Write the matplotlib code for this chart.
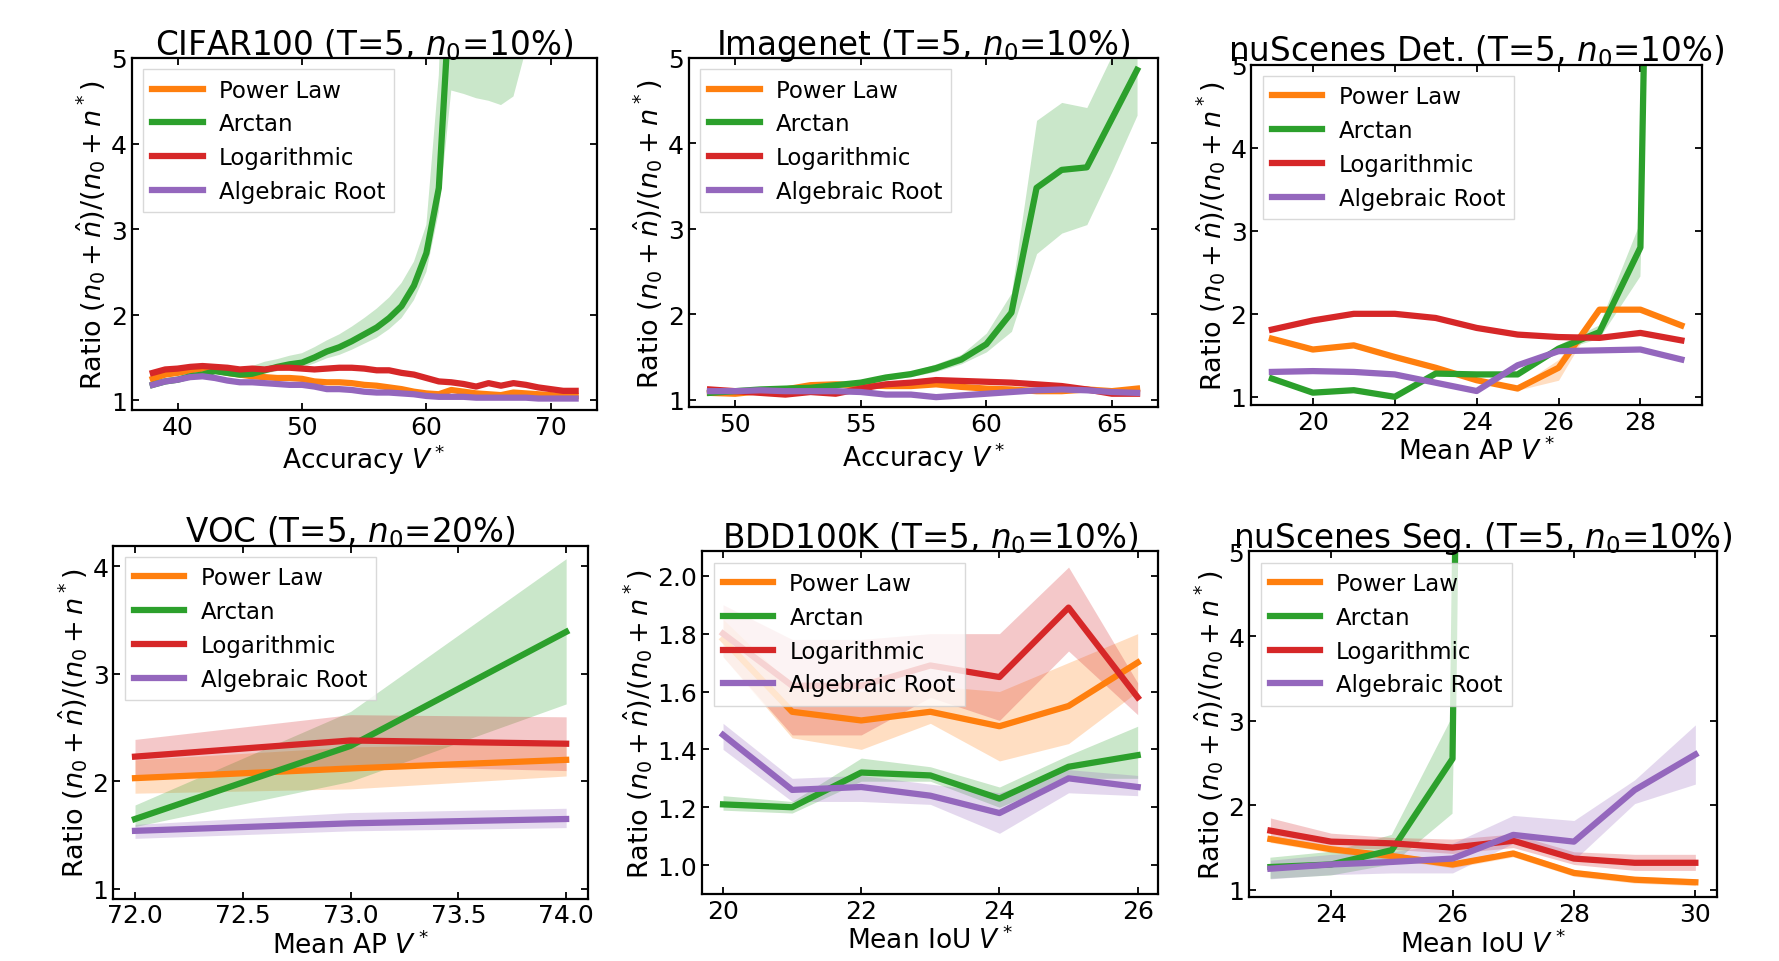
import matplotlib
matplotlib.use("Agg")
import matplotlib.pyplot as plt

SERIES = ["Power Law", "Arctan", "Logarithmic", "Algebraic Root"]
COLORS = ["#ff7f0e", "#2ca02c", "#d62728", "#9467bd"]
YLABEL = r"Ratio $(n_0+\hat{n})/(n_0+n^*)$"

# ---------------- CIFAR100 ----------------
cifar_x = list(range(38, 73))
cifar_power = [1.25, 1.30, 1.32, 1.35, 1.37, 1.35, 1.32, 1.30, 1.28, 1.27, 1.26, 1.26, 1.25, 1.22, 1.21,
               1.21, 1.20, 1.18, 1.17, 1.15, 1.13, 1.10, 1.08, 1.07, 1.12, 1.10, 1.08, 1.07, 1.06, 1.09,
               1.08, 1.07, 1.06, 1.05, 1.05]
cifar_arctan = [1.18, 1.22, 1.24, 1.28, 1.30, 1.34, 1.32, 1.30, 1.31, 1.35, 1.39, 1.42, 1.44, 1.50, 1.57,
                1.62, 1.69, 1.77, 1.85, 1.96, 2.10, 2.34, 2.72, 3.48, 6.0, 8.0, 9.5, 10.5, 11.5, 12.5,
                13.5, 14.5, 15.5, 16.5, 17.5]
cifar_arctan_lo = [1.15, 1.19, 1.21, 1.25, 1.27, 1.31, 1.29, 1.27, 1.28, 1.31, 1.34, 1.36, 1.38, 1.43, 1.49,
                   1.53, 1.59, 1.66, 1.73, 1.83, 1.96, 2.17, 2.50, 3.20, 4.62, 4.58, 4.53, 4.50, 4.45, 4.55,
                   5.10, 5.80, 6.50, 7.20, 7.80]
cifar_arctan_hi = [1.21, 1.25, 1.27, 1.31, 1.34, 1.38, 1.37, 1.37, 1.40, 1.45, 1.48, 1.52, 1.55, 1.62, 1.70,
                   1.77, 1.86, 1.96, 2.07, 2.20, 2.37, 2.62, 3.05, 4.80, 9.0, 12.0, 14.0, 16.0, 18.0, 20.0,
                   22.0, 24.0, 26.0, 28.0, 30.0]
cifar_log = [1.32, 1.36, 1.37, 1.39, 1.40, 1.39, 1.38, 1.36, 1.37, 1.36, 1.38, 1.38, 1.37, 1.36, 1.37,
             1.38, 1.38, 1.37, 1.35, 1.35, 1.32, 1.30, 1.26, 1.22, 1.21, 1.19, 1.16, 1.20, 1.17, 1.20,
             1.18, 1.15, 1.13, 1.11, 1.11]
cifar_root = [1.18, 1.22, 1.24, 1.27, 1.28, 1.26, 1.23, 1.21, 1.21, 1.20, 1.19, 1.18, 1.18, 1.16, 1.13,
              1.13, 1.12, 1.10, 1.09, 1.09, 1.08, 1.07, 1.05, 1.04, 1.04, 1.04, 1.03, 1.03, 1.03, 1.03,
              1.03, 1.02, 1.02, 1.02, 1.02]
cifar_spread = 0.02

# ---------------- Imagenet ----------------
in_x = list(range(49, 67))
in_power = [1.08, 1.07, 1.10, 1.12, 1.17, 1.18, 1.17, 1.16, 1.16, 1.18, 1.15, 1.13, 1.12, 1.10, 1.10, 1.12, 1.10, 1.13]
in_arctan = [1.08, 1.10, 1.12, 1.13, 1.14, 1.17, 1.20, 1.26, 1.30, 1.37, 1.47, 1.65, 2.02, 3.48, 3.69, 3.72, 4.29, 4.86]
in_arctan_lo = [1.06, 1.08, 1.10, 1.11, 1.12, 1.14, 1.17, 1.23, 1.27, 1.33, 1.42, 1.56, 1.80, 2.71, 2.95, 3.05, 3.67, 4.33]
in_arctan_hi = [1.10, 1.12, 1.14, 1.15, 1.16, 1.20, 1.23, 1.29, 1.33, 1.42, 1.53, 1.78, 2.25, 4.27, 4.48, 4.42, 5.03, 5.60]
in_log = [1.12, 1.10, 1.08, 1.06, 1.09, 1.07, 1.13, 1.18, 1.20, 1.23, 1.22, 1.21, 1.20, 1.18, 1.16, 1.12, 1.07, 1.07]
in_root = [1.10, 1.10, 1.11, 1.10, 1.10, 1.10, 1.09, 1.06, 1.06, 1.03, 1.05, 1.07, 1.09, 1.11, 1.12, 1.11, 1.09, 1.08]
in_spread = 0.02

# ---------------- nuScenes Det. ----------------
det_x = list(range(19, 30))
det_power = [1.70, 1.57, 1.62, 1.48, 1.35, 1.20, 1.10, 1.35, 2.05, 2.05, 1.86]
det_power_lo = [1.68, 1.55, 1.60, 1.46, 1.33, 1.18, 1.08, 1.20, 2.03, 2.03, 1.84]
det_power_hi = [1.72, 1.59, 1.64, 1.50, 1.37, 1.22, 1.12, 1.45, 2.07, 2.07, 1.88]
det_arctan = [1.22, 1.05, 1.08, 1.00, 1.28, 1.27, 1.27, 1.58, 1.78, 2.80, 30.0]
det_arctan_lo = [1.20, 1.03, 1.06, 0.98, 1.26, 1.25, 1.25, 1.55, 1.70, 2.45, 20.0]
det_arctan_hi = [1.24, 1.07, 1.10, 1.02, 1.30, 1.29, 1.29, 1.62, 1.86, 3.10, 40.0]
det_log = [1.81, 1.92, 2.00, 2.00, 1.95, 1.83, 1.75, 1.72, 1.71, 1.77, 1.68]
det_root = [1.30, 1.31, 1.30, 1.27, 1.17, 1.07, 1.38, 1.55, 1.56, 1.57, 1.45]
det_spread = 0.02

# ---------------- VOC ----------------
voc_x = [72, 73, 74]
voc_power = [2.03, 2.12, 2.20]
voc_power_lo = [1.89, 1.93, 2.05]
voc_power_hi = [2.20, 2.32, 2.36]
voc_arctan = [1.65, 2.33, 3.39]
voc_arctan_lo = [1.58, 2.00, 2.72]
voc_arctan_hi = [1.78, 2.65, 4.07]
voc_log = [2.23, 2.38, 2.35]
voc_log_lo = [2.05, 2.15, 2.10]
voc_log_hi = [2.39, 2.62, 2.60]
voc_root = [1.54, 1.61, 1.65]
voc_root_lo = [1.47, 1.54, 1.57]
voc_root_hi = [1.60, 1.71, 1.75]

# ---------------- BDD100K ----------------
bdd_x = [20, 21, 22, 23, 24, 25, 26]
bdd_power = [1.78, 1.53, 1.50, 1.53, 1.48, 1.55, 1.70]
bdd_power_lo = [1.72, 1.44, 1.40, 1.49, 1.36, 1.42, 1.60]
bdd_power_hi = [1.85, 1.62, 1.60, 1.62, 1.60, 1.70, 1.80]
bdd_arctan = [1.21, 1.20, 1.32, 1.31, 1.23, 1.34, 1.38]
bdd_arctan_lo = [1.19, 1.18, 1.29, 1.29, 1.20, 1.30, 1.30]
bdd_arctan_hi = [1.24, 1.22, 1.37, 1.34, 1.27, 1.38, 1.48]
bdd_log = [1.80, 1.62, 1.62, 1.69, 1.65, 1.89, 1.58]
bdd_log_lo = [1.72, 1.45, 1.45, 1.58, 1.50, 1.74, 1.52]
bdd_log_hi = [1.90, 1.78, 1.78, 1.80, 1.80, 2.03, 1.63]
bdd_root = [1.45, 1.26, 1.27, 1.24, 1.18, 1.30, 1.27]
bdd_root_lo = [1.40, 1.22, 1.22, 1.21, 1.11, 1.25, 1.24]
bdd_root_hi = [1.49, 1.30, 1.31, 1.28, 1.25, 1.33, 1.31]

# ---------------- nuScenes Seg. ----------------
seg_x = [23, 24, 25, 26, 27, 28, 29, 30]
seg_power = [1.60, 1.48, 1.40, 1.30, 1.43, 1.20, 1.12, 1.09]
seg_power_lo = [1.56, 1.44, 1.36, 1.26, 1.39, 1.16, 1.08, 1.05]
seg_power_hi = [1.64, 1.52, 1.44, 1.34, 1.47, 1.24, 1.16, 1.13]
seg_arctan = [1.27, 1.30, 1.47, 2.55, 60.0, 70.0, 80.0, 90.0]
seg_arctan_lo = [1.13, 1.17, 1.30, 1.90, 40.0, 50.0, 60.0, 70.0]
seg_arctan_hi = [1.38, 1.45, 1.65, 3.05, 80.0, 90.0, 100.0, 110.0]
seg_log = [1.70, 1.57, 1.55, 1.50, 1.58, 1.37, 1.32, 1.32]
seg_log_lo = [1.60, 1.50, 1.48, 1.43, 1.50, 1.30, 1.23, 1.23]
seg_log_hi = [1.85, 1.67, 1.62, 1.60, 1.66, 1.45, 1.42, 1.42]
seg_root = [1.25, 1.30, 1.33, 1.37, 1.65, 1.57, 2.18, 2.60]
seg_root_lo = [1.13, 1.18, 1.20, 1.20, 1.55, 1.35, 2.02, 2.25]
seg_root_hi = [1.35, 1.42, 1.45, 1.55, 1.88, 1.82, 2.30, 2.95]


def spread(vals, s):
    return [v - s for v in vals], [v + s for v in vals]


panels = [
    dict(title=r"CIFAR100 (T=5, $n_0$=10%)", xlabel=r"Accuracy $V^*$", x=cifar_x,
         lines=[cifar_power, cifar_arctan, cifar_log, cifar_root],
         bands=[spread(cifar_power, cifar_spread), (cifar_arctan_lo, cifar_arctan_hi),
                spread(cifar_log, cifar_spread), spread(cifar_root, cifar_spread)],
         ylim=(0.89, 5), yticks=[1, 2, 3, 4, 5], xticks=[40, 50, 60, 70], fmt="{:g}",
         rect=(116, 52, 526, 362)),
    dict(title=r"Imagenet (T=5, $n_0$=10%)", xlabel=r"Accuracy $V^*$", x=in_x,
         lines=[in_power, in_arctan, in_log, in_root],
         bands=[spread(in_power, in_spread), (in_arctan_lo, in_arctan_hi),
                spread(in_log, in_spread), spread(in_root, in_spread)],
         ylim=(0.91, 5), yticks=[1, 2, 3, 4, 5], xticks=[50, 55, 60, 65], fmt="{:g}",
         rect=(607, 52, 1021, 360)),
    dict(title=r"nuScenes Det. (T=5, $n_0$=10%)", xlabel=r"Mean AP $V^*$", x=det_x,
         lines=[det_power, det_arctan, det_log, det_root],
         bands=[(det_power_lo, det_power_hi), (det_arctan_lo, det_arctan_hi),
                spread(det_log, det_spread), spread(det_root, det_spread)],
         ylim=(0.9, 5), yticks=[1, 2, 3, 4, 5], xticks=[20, 22, 24, 26, 28], fmt="{:g}",
         rect=(1103, 58, 1500, 358)),
    dict(title=r"VOC (T=5, $n_0$=20%)", xlabel=r"Mean AP $V^*$", x=voc_x,
         lines=[voc_power, voc_arctan, voc_log, voc_root],
         bands=[(voc_power_lo, voc_power_hi), (voc_arctan_lo, voc_arctan_hi),
                (voc_log_lo, voc_log_hi), (voc_root_lo, voc_root_hi)],
         ylim=(0.91, 4.19), yticks=[1, 2, 3, 4], xticks=[72.0, 72.5, 73.0, 73.5, 74.0], fmt="{:.1f}",
         rect=(100, 482, 518, 793)),
    dict(title=r"BDD100K (T=5, $n_0$=10%)", xlabel=r"Mean IoU $V^*$", x=bdd_x,
         lines=[bdd_power, bdd_arctan, bdd_log, bdd_root],
         bands=[(bdd_power_lo, bdd_power_hi), (bdd_arctan_lo, bdd_arctan_hi),
                (bdd_log_lo, bdd_log_hi), (bdd_root_lo, bdd_root_hi)],
         ylim=(0.9, 2.084), yticks=[1.0, 1.2, 1.4, 1.6, 1.8, 2.0], xticks=[20, 22, 24, 26], fmt="{:g}",
         yfmt="{:.1f}", rect=(619, 487, 1021, 789)),
    dict(title=r"nuScenes Seg. (T=5, $n_0$=10%)", xlabel=r"Mean IoU $V^*$", x=seg_x,
         lines=[seg_power, seg_arctan, seg_log, seg_root],
         bands=[(seg_power_lo, seg_power_hi), (seg_arctan_lo, seg_arctan_hi),
                (seg_log_lo, seg_log_hi), (seg_root_lo, seg_root_hi)],
         ylim=(0.91, 5), yticks=[1, 2, 3, 4, 5], xticks=[24, 26, 28, 30], fmt="{:g}",
         rect=(1101, 487, 1513, 792)),
]

SW, SH = 1568.0, 848.0
fig = plt.figure(figsize=(17.79, 9.62), dpi=100)
fig.patch.set_facecolor("white")

for p in panels:
    l, t, r, b = p["rect"]
    ax = fig.add_axes([l / SW, 1 - b / SH, (r - l) / SW, (b - t) / SH])
    for name, col, ys, (lo, hi) in zip(SERIES, COLORS, p["lines"], p["bands"]):
        ax.fill_between(p["x"], lo, hi, color=col, alpha=0.25, linewidth=0)
        ax.plot(p["x"], ys, color=col, lw=4.5, label=name)
    ax.set_ylim(*p["ylim"])
    ax.set_yticks(p["yticks"])
    yfmt = p.get("yfmt", "{:g}")
    ax.set_yticklabels([yfmt.format(v) for v in p["yticks"]])
    ax.set_xticks(p["xticks"])
    ax.set_xticklabels([p["fmt"].format(v) for v in p["xticks"]])
    ax.tick_params(direction="in", top=True, right=True, labelsize=18, length=5, width=1.3)
    for s in ax.spines.values():
        s.set_linewidth(1.6)
    ax.set_title(p["title"], fontsize=23.5, pad=3)
    ax.set_xlabel(p["xlabel"], fontsize=19, labelpad=2)
    ax.set_ylabel(YLABEL, fontsize=19.5, labelpad=2)
    ax.legend(loc="upper left", fontsize=16.5, handlelength=2.2, handletextpad=0.7,
              labelspacing=0.47, fancybox=False, edgecolor="#d0d0d0", framealpha=0.8)

fig.savefig("out.png", dpi=100, facecolor="white")
